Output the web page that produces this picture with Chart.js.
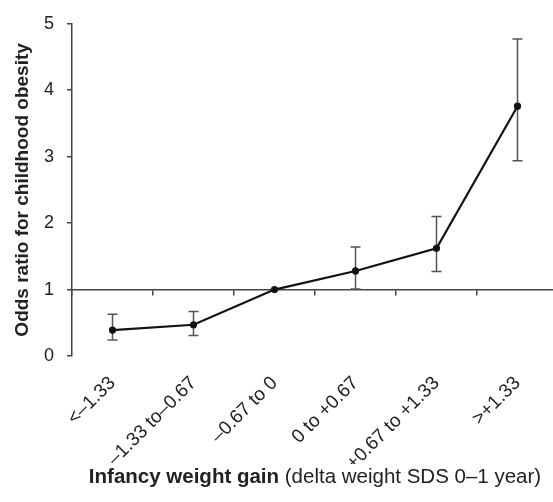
<!DOCTYPE html>
<html>
<head>
<meta charset="utf-8">
<script src="https://cdn.jsdelivr.net/npm/chart.js@4.4.1/dist/chart.umd.min.js"></script>
<style>
  html, body { margin: 0; padding: 0; background: #fff; overflow: hidden; }
  /* the original figure is cropped a little at its right edge */
  #wrap { width: 558px; height: 502px; }
</style>
</head>
<body>
<div id="wrap"><canvas id="orChart"></canvas></div>
<script>
//Weight gain groups (delta weight SDS 0-1 year)
const groups = ["<\u20131.33", "\u20131.33 to\u20130.67", "\u20130.67 to 0", "0 to +0.67", "+0.67 to +1.33", ">+1.33"];

//Odds ratio and 95% CI per group (reference group has no CI)
const oddsRatio = [0.39, 0.47, 1.0, 1.28, 1.62, 3.76];
const ciLower = [0.24, 0.31, null, 1.01, 1.27, 2.94];
const ciUpper = [0.63, 0.67, null, 1.64, 2.10, 4.77];

const yTicks = [0, 1, 2, 3, 4, 5];

const axisColor = "#444";
const fontFamily = "'Liberation Sans', Arial, sans-serif";

//Draws the CI whiskers under the line
const errorBars = {
    id: "errorBars",
    beforeDatasetsDraw(chart){
        let meta = chart.getDatasetMeta(0),
            yScale = chart.scales.y,
            ctx = chart.ctx;
        ctx.save();
        ctx.strokeStyle = "#555";
        ctx.lineWidth = 1.5;
        meta.data.forEach((pt, i) => {
            if(ciLower[i] === null) return;
            let lo = yScale.getPixelForValue(ciLower[i]),
                hi = yScale.getPixelForValue(ciUpper[i]);
            ctx.beginPath();
            ctx.moveTo(pt.x, lo);
            ctx.lineTo(pt.x, hi);
            ctx.moveTo(pt.x - 5, lo);
            ctx.lineTo(pt.x + 5, lo);
            ctx.moveTo(pt.x - 5, hi);
            ctx.lineTo(pt.x + 5, hi);
            ctx.stroke();
        });
        ctx.restore();
    }
};

//X title with a bold lead-in and a plain remainder
const mixedTitle = {
    id: "mixedTitle",
    afterDraw(chart){
        let ctx = chart.ctx,
            area = chart.chartArea,
            boldPart = "Infancy weight gain ",
            plainPart = "(delta weight SDS 0\u20131 year)";
        ctx.save();
        ctx.fillStyle = "#222";
        ctx.textBaseline = "middle";
        ctx.font = "bold 20.5px " + fontFamily;
        let wb = ctx.measureText(boldPart).width;
        ctx.font = "20.5px " + fontFamily;
        let wp = ctx.measureText(plainPart).width;
        let x0 = (area.left + area.right) / 2 - (wb + wp) / 2,
            y0 = chart.scales.x.bottom + 13;
        ctx.font = "bold 20.5px " + fontFamily;
        ctx.fillText(boldPart, x0, y0);
        ctx.font = "20.5px " + fontFamily;
        ctx.fillText(plainPart, x0 + wb, y0);
        ctx.restore();
    }
};

//Let the plot run to the right edge like the original figure
const noSidePad = (scale) => {
    scale.paddingRight = 0;
    scale.paddingLeft = 0;
};

new Chart("orChart", {
    type: "line",
    data: {
        labels: groups,
        datasets: [{
            data: oddsRatio,
            borderColor: "#111",
            backgroundColor: "#111",
            borderWidth: 2.2,
            pointRadius: 2.5,
            pointBackgroundColor: "#111",
            fill: false,
            tension: 0,
        }],
    },
    options: {
        responsive: true,
        maintainAspectRatio: false,
        animation: false,
        layout: {
            autoPadding: false,
            padding: {top: 12, right: 0, left: 11, bottom: 38},
        },
        plugins: {
            legend: {display: false},
            tooltip: {enabled: false},
        },
        scales: {
            x: {
                type: "category",
                offset: true,
                afterFit: (scale) => { scale.height = 108; noSidePad(scale); },
                grid: {display: false, drawTicks: false},
                border: {display: false},
                ticks: {
                    autoSkip: false,
                    maxRotation: 45,
                    minRotation: 45,
                    padding: 16,
                    color: "#222",
                    font: {family: fontFamily, size: 19},
                },
            },
            x2: {
                type: "category",
                position: {y: 1},
                offset: true,
                afterFit: noSidePad,
                grid: {
                    display: true,
                    drawOnChartArea: false,
                    drawTicks: true,
                    tickLength: 5,
                    color: axisColor,
                    lineWidth: 1.5,
                    offset: true,
                },
                border: {display: true, color: axisColor, width: 1.5},
                ticks: {display: false},
            },
            y: {
                min: yTicks[0],
                max: yTicks[yTicks.length - 1],
                afterBuildTicks: (scale) => {
                    scale.ticks = yTicks.map(v => ({value: v}));
                },
                afterFit: (scale) => { scale.width = 61; },
                grid: {
                    drawOnChartArea: false,
                    drawTicks: true,
                    tickLength: 5,
                    color: axisColor,
                    lineWidth: 1.5,
                },
                border: {display: true, color: axisColor, width: 1.5},
                ticks: {
                    padding: 13,
                    color: "#222",
                    font: {family: fontFamily, size: 18},
                },
                title: {
                    display: true,
                    text: "Odds ratio for childhood obesity",
                    color: "#222",
                    font: {family: fontFamily, size: 19, weight: "bold"},
                    padding: {top: 0, bottom: 6},
                },
            },
        },
    },
    plugins: [errorBars, mixedTitle],
});
</script>
</body>
</html>
